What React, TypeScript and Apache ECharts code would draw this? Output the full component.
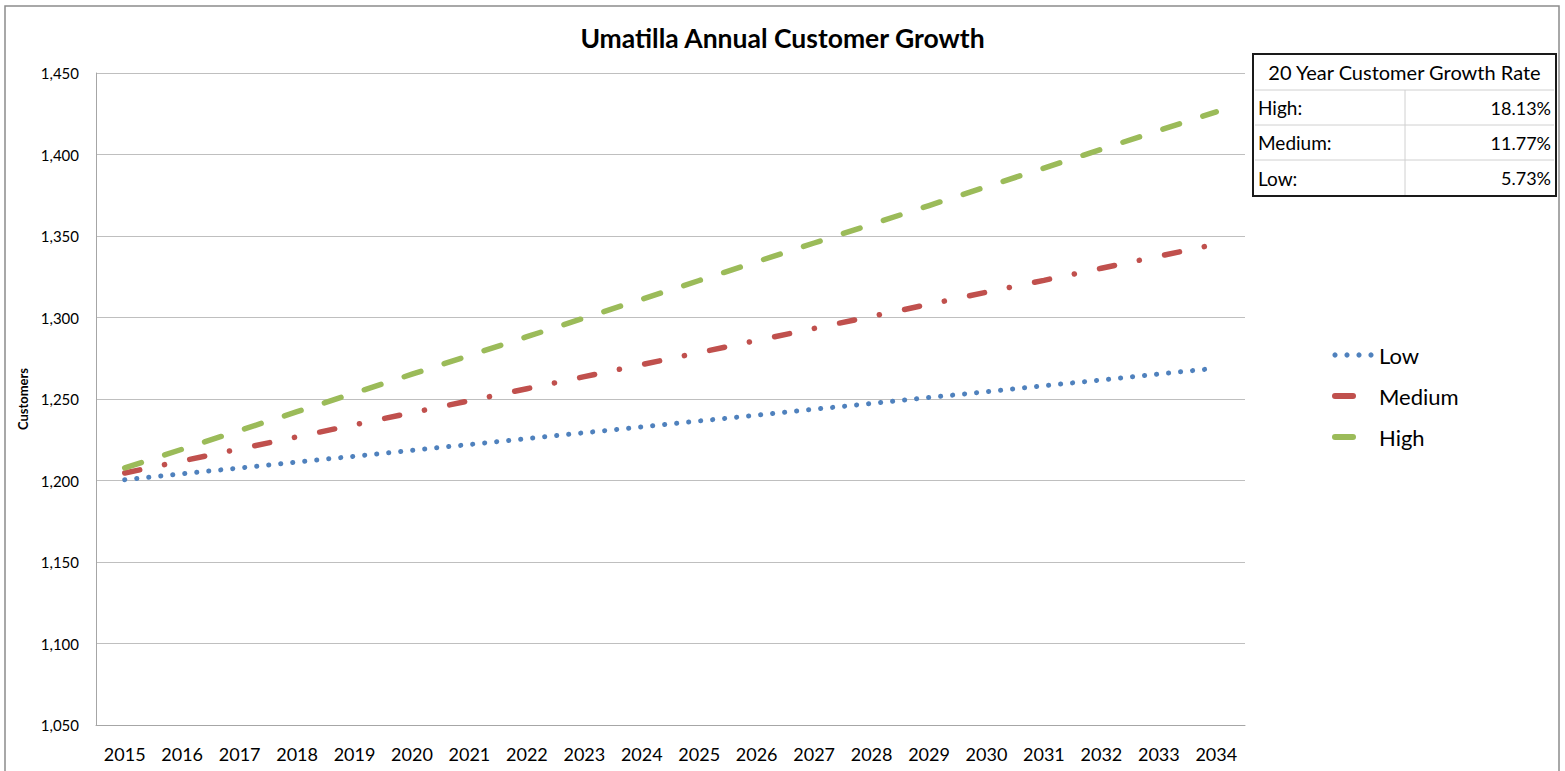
import React, { useEffect, useRef } from "react";
import * as echarts from "echarts";

const years = [
  "2015", "2016", "2017", "2018", "2019", "2020", "2021", "2022", "2023", "2024",
  "2025", "2026", "2027", "2028", "2029", "2030", "2031", "2032", "2033", "2034",
];

const lowValues = [
  1200.5, 1204.1, 1207.7, 1211.3, 1214.9, 1218.5, 1222.1, 1225.7, 1229.3, 1232.9,
  1236.5, 1240.1, 1243.7, 1247.3, 1250.9, 1254.5, 1258.1, 1261.7, 1265.3, 1268.9,
];

const mediumValues = [
  1204.6, 1212.0, 1219.4, 1226.8, 1234.2, 1241.6, 1248.9, 1256.3, 1263.7, 1271.1,
  1278.5, 1285.9, 1293.3, 1300.7, 1308.1, 1315.5, 1322.8, 1330.2, 1337.6, 1345.0,
];

const highValues = [
  1207.7, 1219.2, 1230.7, 1242.2, 1253.7, 1265.2, 1276.7, 1288.2, 1299.7, 1311.2,
  1322.7, 1334.2, 1345.7, 1357.2, 1368.7, 1380.2, 1391.7, 1403.2, 1414.7, 1426.2,
];

const seriesNames = ["Low", "Medium", "High"];
const seriesColors = ["#4F81BD", "#C0504D", "#9BBB59"];

const yMin = 1050;
const yMax = 1450;
const yStep = 50;

const tableTitle = "20 Year Customer Growth Rate";
const tableLabels = ["High:", "Medium:", "Low:"];
const tableRates = ["18.13%", "11.77%", "5.73%"];

const FONT = "Lato";

function buildTable(): any[] {
  const x0 = 1253;
  const x1 = 1556;
  const xc = 1405;
  const rowTops = [54, 90, 125, 160, 196];
  const els: any[] = [];
  els.push({
    type: "rect",
    shape: { x: x0, y: rowTops[0], width: x1 - x0, height: rowTops[4] - rowTops[0] },
    style: { fill: "#ffffff", stroke: "#1a1a1a", lineWidth: 2 },
    z: 10,
  });
  for (let i = 1; i < 4; i++) {
    els.push({
      type: "line",
      shape: { x1: x0 + 2, y1: rowTops[i], x2: x1 - 2, y2: rowTops[i] },
      style: { stroke: "#d0d0d0", lineWidth: 1 },
      z: 11,
    });
  }
  els.push({
    type: "line",
    shape: { x1: xc, y1: rowTops[1], x2: xc, y2: rowTops[4] - 1 },
    style: { stroke: "#d0d0d0", lineWidth: 1 },
    z: 11,
  });
  els.push({
    type: "text",
    x: (x0 + x1) / 2,
    y: (rowTops[0] + rowTops[1]) / 2,
    style: {
      text: tableTitle,
      fill: "#000",
      font: `20px ${FONT}`,
      align: "center",
      verticalAlign: "middle",
    },
    z: 12,
  });
  for (let i = 0; i < 3; i++) {
    const cy = (rowTops[i + 1] + rowTops[i + 2]) / 2;
    els.push({
      type: "text",
      x: x0 + 5,
      y: cy,
      style: { text: tableLabels[i], fill: "#000", font: `19px ${FONT}`, align: "left", verticalAlign: "middle" },
      z: 12,
    });
    els.push({
      type: "text",
      x: x1 - 5,
      y: cy,
      style: { text: tableRates[i], fill: "#000", font: `18px ${FONT}`, align: "right", verticalAlign: "middle" },
      z: 12,
    });
  }
  return els;
}

function buildLegend(): any[] {
  const left = 1332;
  const firstY = 355;
  const gap = 41;
  const els: any[] = [];
  seriesNames.forEach((name, i) => {
    const cy = firstY + gap * i;
    if (i === 0) {
      for (let k = 0; k < 4; k++) {
        els.push({
          type: "circle",
          shape: { cx: left + 3 + 12 * k, cy, r: 2.6 },
          style: { fill: seriesColors[i] },
          z: 12,
        });
      }
    } else {
      els.push({
        type: "rect",
        shape: { x: left, y: cy - 3, width: 24, height: 6, r: 3 },
        style: { fill: seriesColors[i] },
        z: 12,
      });
    }
    els.push({
      type: "text",
      x: left + 47,
      y: cy,
      style: { text: name, fill: "#000", font: `22px ${FONT}`, align: "left", verticalAlign: "middle" },
      z: 12,
    });
  });
  return els;
}

export default function App() {
  const ref = useRef<HTMLDivElement>(null);

  useEffect(() => {
    if (!ref.current) return;
    const chart = echarts.init(ref.current, undefined, { renderer: "svg" });
    const dataSets = [lowValues, mediumValues, highValues];
    const lineTypes: any[] = [
      [0.1, 11.96],
      [15.3, 25.3, 0.1, 25.7],
      [17.5, 24.5],
    ];
    const widths = [5, 5.5, 5.5];

    chart.setOption({
      animation: false,
      backgroundColor: "#ffffff",
      textStyle: { fontFamily: FONT },
      title: {
        text: "Umatilla Annual Customer Growth",
        left: "center",
        top: 24,
        padding: 0,
        textStyle: { fontFamily: FONT, fontSize: 26.5, fontWeight: "bold", color: "#000" },
      },
      grid: { left: 96, right: 320, top: 73, bottom: 46, containLabel: false },
      xAxis: {
        type: "category",
        data: years,
        boundaryGap: true,
        axisLine: { show: true, lineStyle: { color: "#a6a6a6", width: 1 } },
        axisTick: { show: false },
        axisLabel: { color: "#000", fontSize: 18, fontFamily: FONT, margin: 20, interval: 0 },
        splitLine: { show: false },
      },
      yAxis: {
        type: "value",
        min: yMin,
        max: yMax,
        interval: yStep,
        name: "Customers",
        nameLocation: "middle",
        nameRotate: 90,
        nameGap: 62,
        nameTextStyle: { fontFamily: FONT, fontSize: 13, fontWeight: "bold", color: "#000" },
        axisLine: { show: true, lineStyle: { color: "#a6a6a6", width: 1 } },
        axisTick: { show: false },
        axisLabel: {
          color: "#000",
          fontSize: 15,
          fontFamily: FONT,
          margin: 17,
          formatter: (v: number) => v.toLocaleString("en-US"),
        },
        splitLine: { show: true, lineStyle: { color: "#bfbfbf", width: 1 } },
      },
      series: seriesNames.map((name, i) => ({
        name,
        type: "line",
        data: dataSets[i],
        showSymbol: false,
        symbol: "none",
        color: seriesColors[i],
        lineStyle: { color: seriesColors[i], width: widths[i], type: lineTypes[i], cap: "round" },
        itemStyle: { color: seriesColors[i] },
        z: 3 + i,
      })),
      graphic: [
        {
          type: "rect",
          shape: { x: 5, y: 6, width: 1554, height: 775 },
          style: { fill: "none", stroke: "#8c8c8c", lineWidth: 1.5 },
          z: 1,
          silent: true,
        },
        ...buildTable(),
        ...buildLegend(),
      ],
    });

    return () => {
      chart.dispose();
    };
  }, []);

  return (
    <div
      ref={ref}
      style={{ position: "absolute", left: 0, top: 0, width: 1565, height: 771 }}
    />
  );
}
